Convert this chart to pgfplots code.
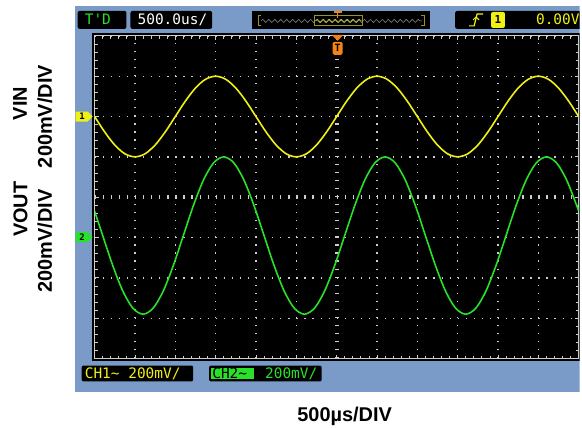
\documentclass[border=0pt]{standalone}
\usepackage{pgfplots}
\pgfplotsset{compat=1.18}
\usepackage{fontspec}
\setmainfont{Liberation Sans}
\newfontfamily\mono{DejaVu Sans Mono}
\usetikzlibrary{decorations.pathmorphing}
\definecolor{panel}{RGB}{122,155,200}
\definecolor{gridgray}{RGB}{205,205,205}
\definecolor{ytrace}{RGB}{240,240,20}
\definecolor{gtrace}{RGB}{40,225,40}
\definecolor{trigorange}{RGB}{245,130,20}
\definecolor{olive}{RGB}{150,150,40}
\newcommand{\lbl}{\bfseries\fontsize{20}{24}\selectfont}
\newcommand{\scr}{\mono\fontsize{14.5}{16}\selectfont}
\begin{document}
\begin{tikzpicture}
\begin{scope}[x=1pt,y=1pt]
  \path[use as bounding box] (0,0) rectangle (582,429);
  \clip (0,0) rectangle (582,429);
  \fill[white] (0,0) rectangle (582,429);
  \fill[panel] (75,35) rectangle (590,423);
  \fill[black] (92,67) rectangle (590,396);
  % top bar
  \fill[black, rounded corners=2pt] (78,400) rectangle (127,418);
  \node[anchor=base west, inner sep=0, text=gtrace, font=\scr] at (85,404) {T'D};
  \fill[black, rounded corners=2pt] (131,400) rectangle (213,418);
  \node[anchor=base west, inner sep=0, text=white, font=\scr] at (138,404) {500.0us/};
  \fill[black] (253,400) rectangle (432,418);
  \draw[gray, line width=0.6pt, decorate, decoration={snake, amplitude=1.6pt, segment length=6pt}] (262,408) -- (424,408);
  \draw[olive, line width=0.8pt] (316,403) rectangle (364,414);
  \draw[ytrace!80!black, line width=0.6pt, decorate, decoration={snake, amplitude=1.6pt, segment length=6pt}] (317,408) -- (363,408);
  \draw[olive, line width=0.8pt] (262,403) -- (259,403) -- (259,414) -- (262,414);
  \draw[olive, line width=0.8pt] (423,403) -- (426,403) -- (426,414) -- (423,414);
  \draw[trigorange, line width=1.2pt] (335,417) -- (343,417) (339,417) -- (339,411);
  \fill[black, rounded corners=2pt] (457,400) rectangle (600,418);
  \draw[ytrace, line width=1.2pt] (471,403) -- (476,403) -- (479,415) -- (485,415);
  \draw[ytrace, line width=1pt] (475,409) -- (478,412) -- (481,409);
  \fill[ytrace, rounded corners=2pt] (493,401) rectangle (507,417);
  \node[inner sep=0, text=black, font=\mono\bfseries\fontsize{11}{12}\selectfont] at (500,409) {1};
  \node[anchor=base west, inner sep=0, text=ytrace, font=\scr] at (538,404) {0.00V};
  % bottom bar
  \fill[black, rounded corners=2pt] (82,46) rectangle (194,62);
  \node[anchor=base west, inner sep=0, text=ytrace, font=\scr] at (85,49) {CH1\textasciitilde{} 200mV/};
  \fill[black, rounded corners=2pt] (210,46) rectangle (323,62);
  \fill[gtrace] (212,48) rectangle (255,60);
  \node[anchor=base west, inner sep=0, text=black, font=\scr] at (213,49) {CH2\textasciitilde};
  \node[anchor=base west, inner sep=0, text=gtrace, font=\scr] at (266,49) {200mV/};
\end{scope}

\begin{axis}[
  at={(95pt,69pt)}, anchor=south west,
  scale only axis, width=486pt, height=324pt,
  xmin=0, xmax=12, ymin=-4, ymax=4,
  xtick={0,...,12}, ytick={-4,...,4},
  minor x tick num=4, minor y tick num=4,
  xticklabels={}, yticklabels={},
  tick align=inside, major tick length=4pt, minor tick length=3pt,
  tick style={gridgray, line width=0.8pt},
  grid=major,
  major grid style={gridgray, line width=1.3pt, dash pattern=on 1.3pt off 6.8pt},
  axis line style={gridgray, line width=1pt},
  axis background/.style={fill=black},
]
  \draw[gridgray, line width=4pt, dash pattern=on 1.3pt off 6.8pt] (axis cs:0,0) -- (axis cs:12,0);
  \draw[gridgray, line width=4pt, dash pattern=on 1.3pt off 6.8pt] (axis cs:6,-4) -- (axis cs:6,4);

  % CH1 (VIN)
  \addplot[ytrace, line width=1.6pt, smooth] coordinates {
    (0,2)(0.25,1.617)(0.5,1.293)(0.75,1.076)(1,1)(1.25,1.076)(1.5,1.293)(1.75,1.617)
    (2,2)(2.25,2.383)(2.5,2.707)(2.75,2.924)(3,3)(3.25,2.924)(3.5,2.707)(3.75,2.383)
    (4,2)(4.25,1.617)(4.5,1.293)(4.75,1.076)(5,1)(5.25,1.076)(5.5,1.293)(5.75,1.617)
    (6,2)(6.25,2.383)(6.5,2.707)(6.75,2.924)(7,3)(7.25,2.924)(7.5,2.707)(7.75,2.383)
    (8,2)(8.25,1.617)(8.5,1.293)(8.75,1.076)(9,1)(9.25,1.076)(9.5,1.293)(9.75,1.617)
    (10,2)(10.25,2.383)(10.5,2.707)(10.75,2.924)(11,3)(11.25,2.924)(11.5,2.707)(11.75,2.383)
    (12,2)
  };

  % CH2 (VOUT)
  \addplot[gtrace, line width=1.6pt, smooth] coordinates {
    (0,-0.347)(0.2,-0.95)(0.45,-1.696)(0.7,-2.329)(0.95,-2.752)(1.2,-2.9)(1.45,-2.752)(1.7,-2.329)
    (1.95,-1.696)(2.2,-0.95)(2.45,-0.204)(2.7,0.429)(2.95,0.852)(3.2,1.0)(3.45,0.852)(3.7,0.429)(3.95,-0.204)
    (4.2,-0.95)(4.45,-1.696)(4.7,-2.329)(4.95,-2.752)(5.2,-2.9)(5.45,-2.752)(5.7,-2.329)
    (5.95,-1.696)(6.2,-0.95)(6.45,-0.204)(6.7,0.429)(6.95,0.852)(7.2,1.0)(7.45,0.852)(7.7,0.429)(7.95,-0.204)
    (8.2,-0.95)(8.45,-1.696)(8.7,-2.329)(8.95,-2.752)(9.2,-2.9)(9.45,-2.752)(9.7,-2.329)
    (9.95,-1.696)(10.2,-0.95)(10.45,-0.204)(10.7,0.429)(10.95,0.852)(11.2,1.0)(11.45,0.852)(11.7,0.429)(11.95,-0.204)
    (12,-0.347)
  };
\end{axis}

\begin{scope}[x=1pt,y=1pt]
  % trigger position marker
  \fill[trigorange] (333,394) -- (345,394) -- (339,388) -- cycle;
  \fill[trigorange, rounded corners=1.5pt] (334,374) rectangle (344,387);
  \node[inner sep=0, text=black, font=\mono\bfseries\fontsize{10}{11}\selectfont] at (339,380.5) {T};
  % ground markers
  \fill[ytrace] (76,317) -- (88,317) -- (93,312) -- (88,307) -- (76,307) -- cycle;
  \node[inner sep=0, text=black, font=\mono\bfseries\fontsize{9}{10}\selectfont] at (82.5,312) {1};
  \fill[gtrace] (76,196) -- (88,196) -- (93,191) -- (88,186) -- (76,186) -- cycle;
  \node[inner sep=0, text=black, font=\mono\bfseries\fontsize{9}{10}\selectfont] at (82.5,191) {2};
  % labels
  \node[rotate=90, inner sep=0, font=\lbl] at (20,325) {VIN};
  \node[rotate=90, inner sep=0, font=\lbl] at (45,312) {200mV/DIV};
  \node[rotate=90, inner sep=0, font=\lbl] at (20.5,219) {VOUT};
  \node[rotate=90, inner sep=0, font=\lbl] at (45,187) {200mV/DIV};
  \node[anchor=base, inner sep=0, font=\lbl] at (346,6) {500µs/DIV};
\end{scope}
\end{tikzpicture}
\end{document}
